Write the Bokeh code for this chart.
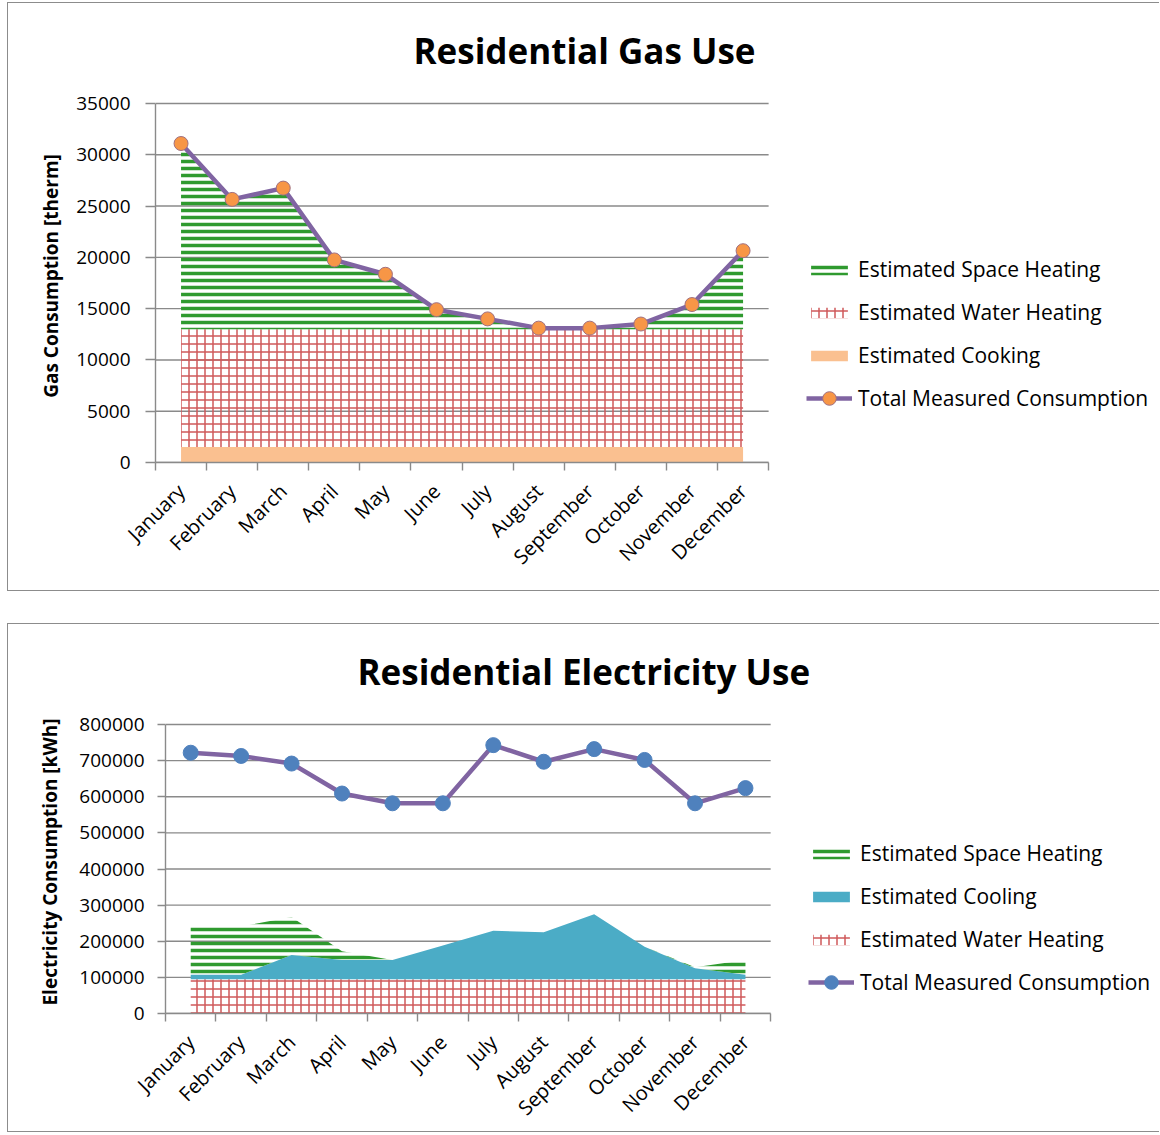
from bokeh.plotting import figure
from bokeh.models import (ColumnDataSource, Range1d, FixedTicker, BasicTickFormatter,
                          Legend, LegendItem, Title)
from bokeh.transform import stack
from bokeh.embed import file_html
from bokeh.resources import INLINE

# ---------------- data ----------------
months = ["January", "February", "March", "April", "May", "June", "July",
          "August", "September", "October", "November", "December"]

gas_cooking = [1500, 1500, 1500, 1500, 1500, 1500, 1500, 1500, 1500, 1500, 1500, 1500]
gas_water = [11500, 11500, 11500, 11500, 11500, 11500, 11500, 11500, 11500, 11500, 11500, 11500]
gas_space = [18100, 12650, 13750, 6750, 5350, 1900, 1000, 100, 100, 500, 2400, 7650]
gas_total = [31100, 25650, 26750, 19750, 18350, 14900, 14000, 13100, 13100, 13500, 15400, 20650]
gas_ticks = [0, 5000, 10000, 15000, 20000, 25000, 30000, 35000]

elec_water = [95000, 95000, 95000, 95000, 95000, 95000, 95000, 95000, 95000, 95000, 95000, 95000]
elec_cooling = [12000, 12000, 67000, 53000, 53000, 93000, 134000, 130000, 180000, 90000, 30000, 12000]
elec_space = [134000, 134000, 105000, 24000, 0, 0, 0, 0, 0, 0, 3000, 41000]
elec_total = [722000, 713000, 692000, 609000, 582000, 582000, 743000, 697000, 732000, 702000, 582000, 624000]
elec_ticks = [0, 100000, 200000, 300000, 400000, 500000, 600000, 700000, 800000]

# ---------------- style ----------------
FONT = "Open Sans"
GRID = "#8a8a8a"
GREEN = "#2f9a2f"
RED = "#d0595a"
ORANGE_FILL = "#fac090"
CYAN = "#4bacc6"
PURPLE = "#8064a2"
ORANGE_MK = "#f79646"
BLUE_MK = "#4f81bd"
BORDER = {"border-left": "1px solid #8c8c8c", "border-top": "1px solid #8c8c8c",
          "border-bottom": "1px solid #8c8c8c"}

xs = list(range(1, len(months) + 1))
bounds = [i + 0.5 for i in range(0, len(months) + 1)]
X_LO, X_HI = 0.5, len(months) + 0.5


def base_fig(height, x_end, y_top, ticks, mb_left, mb_top, mb_bottom,
             title, title_offset, ytitle, tick_out, label_standoff, title_standoff, margin):
    # the frame runs on to the right edge (legends sit inside it) and a little above
    # the top tick (room for the title); axis lines and grid lines stop at the data extent
    p = figure(width=1152, height=height, x_range=Range1d(X_LO, x_end),
               y_range=Range1d(0, y_top), output_backend="svg", toolbar_location=None,
               min_border_left=mb_left, min_border_right=0,
               min_border_top=mb_top, min_border_bottom=mb_bottom)
    p.styles = BORDER
    p.margin = margin
    p.outline_line_color = None
    p.background_fill_color = "white"
    p.title = Title(text=title, align="left", offset=title_offset, standoff=32,
                    text_font=FONT, text_font_size="35px", text_font_style="bold",
                    text_color="#000000")
    p.xgrid.visible = False
    p.ygrid.visible = False
    p.segment(x0=X_LO, x1=X_HI, y0=ticks, y1=ticks, line_color=GRID, line_width=1.4)

    ya = p.yaxis[0]
    ya.bounds = (ticks[0], ticks[-1])
    ya.ticker = FixedTicker(ticks=ticks)
    ya.formatter = BasicTickFormatter(use_scientific=False)
    ya.axis_line_color = GRID
    ya.axis_line_width = 1.4
    ya.major_tick_line_color = GRID
    ya.major_tick_line_width = 1.4
    ya.major_tick_out = tick_out
    ya.major_tick_in = 0
    ya.minor_tick_line_color = None
    ya.major_label_standoff = label_standoff
    ya.major_label_text_font = FONT
    ya.major_label_text_font_size = "19px"
    ya.major_label_text_color = "#000000"
    ya.axis_label = ytitle
    ya.axis_label_text_font = FONT
    ya.axis_label_text_font_size = "19px"
    ya.axis_label_text_font_style = "bold"
    ya.axis_label_text_color = "#000000"
    ya.axis_label_standoff = title_standoff

    xa = p.xaxis[0]
    xa.bounds = (X_LO, X_HI)
    xa.ticker = FixedTicker(ticks=xs, minor_ticks=bounds)
    xa.major_label_overrides = {x: m for x, m in zip(xs, months)}
    xa.major_label_orientation = 0.785398
    xa.axis_line_color = GRID
    xa.axis_line_width = 1.4
    xa.major_tick_line_color = None
    xa.major_tick_out = 0
    xa.major_tick_in = 0
    xa.minor_tick_line_color = GRID
    xa.minor_tick_line_width = 1.4
    xa.minor_tick_out = 8
    xa.minor_tick_in = 0
    xa.major_label_standoff = 17
    xa.major_label_text_font = FONT
    xa.major_label_text_font_size = "20px"
    xa.major_label_text_color = "#000000"
    return p


def add_legends(p, area_items, total_item, vx, vy_area, vy_total):
    common = dict(glyph_width=46, label_height=20, label_standoff=6, padding=0, margin=0,
                  border_line_color=None, background_fill_alpha=0,
                  label_text_font=FONT, label_text_font_size="21px",
                  label_text_color="#000000")
    la = Legend(items=area_items, location=(vx, vy_area), glyph_height=13,
                spacing=15, **common)
    lb = Legend(items=[total_item], location=(vx, vy_total), glyph_height=34,
                spacing=0, **common)
    p.add_layout(la, "center")
    p.add_layout(lb, "center")


# ---------------- gas chart ----------------
gsrc = ColumnDataSource(dict(x=xs, cooking=gas_cooking, water=gas_water,
                             space=gas_space, total=gas_total))
p1 = base_fig(589, 20.17, 36365, gas_ticks, 147, 86, 130,
              "Residential Gas Use", 258, "Gas Consumption [therm]", 10, 15, 9,
              (2, 0, 0, 7))

r_cook = p1.varea(x="x", y1=0, y2="cooking", source=gsrc, fill_color=ORANGE_FILL)
r_water = p1.varea(x="x", y1=stack("cooking"), y2=stack("cooking", "water"), source=gsrc,
                   fill_color=None, hatch_pattern="+", hatch_color=RED,
                   hatch_scale=8, hatch_weight=1.5)
r_space = p1.varea(x="x", y1=stack("cooking", "water"), y2=stack("cooking", "water", "space"),
                   source=gsrc, fill_color=None, hatch_pattern="-", hatch_color=GREEN,
                   hatch_scale=7, hatch_weight=3.5)
r_gl = p1.line(x="x", y="total", source=gsrc, line_color=PURPLE, line_width=4.5)
r_gm = p1.scatter(x="x", y="total", source=gsrc, size=14, marker="circle",
                  fill_color=ORANGE_MK, line_color="#a07080", line_width=1)

add_legends(p1,
            [LegendItem(label="Estimated Space Heating", renderers=[r_space]),
             LegendItem(label="Estimated Water Heating", renderers=[r_water]),
             LegendItem(label="Estimated Cooking", renderers=[r_cook])],
            LegendItem(label="Total Measured Consumption", renderers=[r_gl, r_gm]),
            651, 93, 47)

# ---------------- electricity chart ----------------
esrc = ColumnDataSource(dict(x=xs, water=elec_water, cooling=elec_cooling,
                             space=elec_space, total=elec_total))
p2 = base_fig(509, 20.23, 838889, elec_ticks, 157, 86, 119,
              "Residential Electricity Use", 192, "Electricity Consumption [kWh]", 8, 13, 13,
              (32, 0, 0, 7))

e_water = p2.varea(x="x", y1=0, y2="water", source=esrc,
                   fill_color=None, hatch_pattern="+", hatch_color=RED,
                   hatch_scale=8, hatch_weight=1.5)
e_cool = p2.varea(x="x", y1=stack("water"), y2=stack("water", "cooling"), source=esrc,
                  fill_color=CYAN)
e_space = p2.varea(x="x", y1=stack("water", "cooling"), y2=stack("water", "cooling", "space"),
                   source=esrc, fill_color=None, hatch_pattern="-", hatch_color=GREEN,
                   hatch_scale=7, hatch_weight=3.5)
e_line = p2.line(x="x", y="total", source=esrc, line_color=PURPLE, line_width=4.5)
e_mk = p2.scatter(x="x", y="total", source=esrc, size=15, marker="circle",
                  fill_color=BLUE_MK, line_color=BLUE_MK, line_width=1)

add_legends(p2,
            [LegendItem(label="Estimated Space Heating", renderers=[e_space]),
             LegendItem(label="Estimated Cooling", renderers=[e_cool]),
             LegendItem(label="Estimated Water Heating", renderers=[e_water])],
            LegendItem(label="Total Measured Consumption", renderers=[e_line, e_mk]),
            643, 60, 14)

open("out.html", "w").write(file_html([p1, p2], INLINE))
